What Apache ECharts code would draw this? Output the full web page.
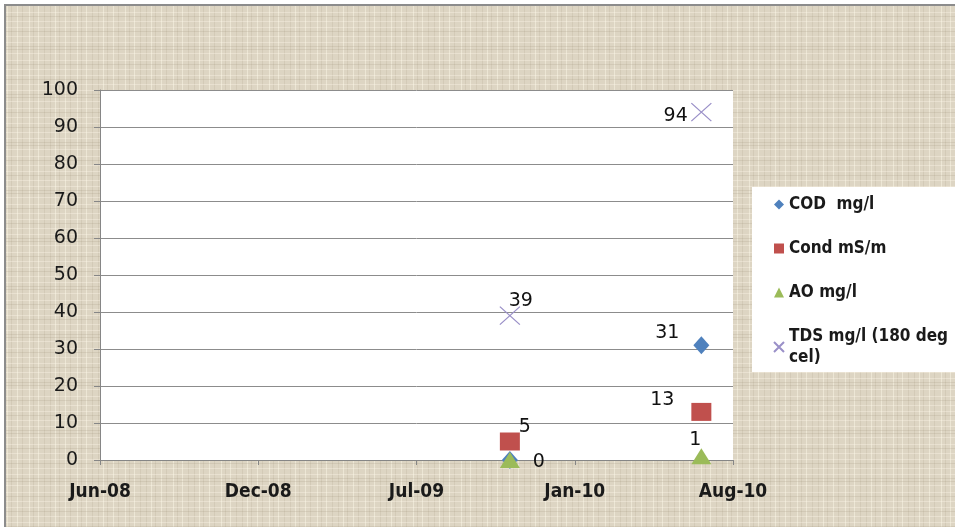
<!DOCTYPE html>
<html>
<head>
<meta charset="utf-8">
<script src="https://cdn.jsdelivr.net/npm/echarts@6/dist/echarts.min.js"></script>
<style>
html,body{margin:0;padding:0;background:#fff;}
#chart{width:955px;height:527px;}
</style>
</head>
<body>
<div id="chart"></div>
<script>
//数据
var seriesNames = ['COD  mg/l', 'Cond mS/m', 'AO mg/l', 'TDS mg/l (180 deg\ncel)'];
var sampleDates = ['2009-11-01', '2010-07-01'];
var codValues = [0, 31];
var condValues = [5, 13];
var aoValues = [0, 1];
var tdsValues = [39, 94];
var monthNames = ['Jan','Feb','Mar','Apr','May','Jun','Jul','Aug','Sep','Oct','Nov','Dec'];

var seriesColors = ['#4F81BD', '#C0504D', '#9BBB59', '#9a90c8'];
var seriesSymbols = ['diamond', 'rect', 'triangle', 'path://M0,0 L10,10 M10,0 L0,10'];
var symbolSizes = [[16, 18], [20, 18], [20, 16], [20, 18]];

//excel序列号 <-> 日期
function toSerial(str) {
	var p = str.split('-');
	var t = Date.UTC(+p[0], +p[1] - 1, +p[2]);
	return Math.round((t - Date.UTC(1899, 11, 30)) / 86400000);
}
function serialLabel(v) {
	var d = new Date(Date.UTC(1899, 11, 30) + v * 86400000);
	var yy = String(d.getUTCFullYear()).slice(2);
	return monthNames[d.getUTCMonth()] + '-' + yy;
}

//背景纹理
function makeTexture() {
	var c = document.createElement('canvas');
	c.width = 48; c.height = 48;
	var ctx = c.getContext('2d');
	ctx.fillStyle = '#ddd5c3';
	ctx.fillRect(0, 0, 48, 48);
	var vx = [2, 7, 11, 17, 22, 29, 33, 38, 44];
	var hy = [1, 5, 12, 16, 21, 27, 31, 36, 42, 46];
	for (var i = 0; i < vx.length; i++) {
		ctx.fillStyle = i % 2 ? 'rgba(255,250,235,0.45)' : 'rgba(150,135,110,0.13)';
		ctx.fillRect(vx[i], 0, 1, 48);
	}
	for (var j = 0; j < hy.length; j++) {
		ctx.fillStyle = j % 3 ? 'rgba(255,250,235,0.35)' : 'rgba(140,125,100,0.15)';
		ctx.fillRect(0, hy[j], 48, 1);
	}
	return c;
}

var valueLists = [codValues, condValues, aoValues, tdsValues];
//数据标签位置
var labelConf = [
	[{position: 'right', offset: [10, 2]}, {position: 'left', offset: [-9, -12]}],
	[{position: 'right', offset: [-6, -14]}, {position: 'left', offset: [-12, -12]}],
	[{show: false}, {position: 'top', offset: [-6, 6]}],
	[{position: 'top', offset: [11, 9]}, {position: 'left', offset: [2, 4]}]
];

var series = [];
for (var s = 0; s < seriesNames.length; s++) {
	var data = [];
	for (var k = 0; k < sampleDates.length; k++) {
		data.push({
			value: [toSerial(sampleDates[k]), valueLists[s][k]],
			label: labelConf[s][k]
		});
	}
	var item = {
		name: seriesNames[s],
		type: 'scatter',
		symbol: seriesSymbols[s],
		symbolSize: symbolSizes[s],
		clip: false,
		itemStyle: {color: seriesColors[s], opacity: 1},
		label: {
			show: true,
			color: '#111',
			fontFamily: 'DejaVu Sans',
			fontSize: 19,
			formatter: function(p) { return p.value[1]; }
		},
		data: data
	};
	if (s == 3) {
		item.itemStyle = {color: 'rgba(0,0,0,0)', borderColor: seriesColors[s], borderWidth: 1.2, opacity: 1};
	}
	series.push(item);
}

var myChart = echarts.init(document.getElementById('chart'));
myChart.setOption({
	animation: false,
	graphic: [
		{type: 'rect', z: -10, shape: {x: 5, y: 5, width: 960, height: 540},
			style: {fill: {image: makeTexture(), repeat: 'repeat'}, stroke: '#8c8c8c', lineWidth: 2}},
		{type: 'rect', z: -5, shape: {x: 752, y: 187, width: 210, height: 185}, style: {fill: '#ffffff'}}
	],
	grid: {
		left: 100, right: 222, top: 90, bottom: 67,
		show: true, backgroundColor: '#ffffff', borderWidth: 0
	},
	legend: {
		orient: 'vertical',
		left: 768, top: 189,
		itemGap: 23,
		itemWidth: 10, itemHeight: 10,
		textStyle: {fontFamily: 'Liberation Sans Narrow, DejaVu Sans Condensed, sans-serif', fontWeight: 'bold', fontSize: 17, color: '#1a1a1a', lineHeight: 21},
		data: seriesNames
	},
	xAxis: {
		type: 'value',
		min: 39600, max: 40400, interval: 200,
		axisLine: {show: true, lineStyle: {color: '#868686'}},
		axisTick: {show: true, length: 5, inside: false, lineStyle: {color: '#868686'}},
		splitLine: {show: false},
		axisLabel: {
			margin: 23,
			fontFamily: 'Liberation Sans Narrow, DejaVu Sans Condensed, sans-serif',
			fontWeight: 'bold', fontSize: 19, color: '#1a1a1a',
			formatter: serialLabel
		}
	},
	yAxis: {
		type: 'value',
		min: 0, max: 100, interval: 10,
		axisLine: {show: true, lineStyle: {color: '#868686'}},
		axisTick: {show: true, length: 6, lineStyle: {color: '#868686'}},
		splitLine: {show: true, lineStyle: {color: '#8c8c8c', width: 1}},
		axisLabel: {margin: 22, fontFamily: 'DejaVu Sans', fontSize: 19, color: '#1a1a1a'}
	},
	series: series
});
</script>
</body>
</html>
